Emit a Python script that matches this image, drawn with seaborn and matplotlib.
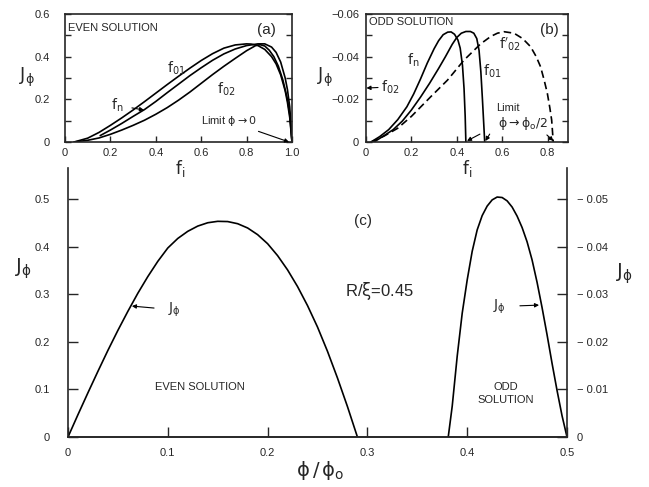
import numpy as np
import pandas as pd
import matplotlib
matplotlib.use("Agg")
import matplotlib.pyplot as plt
from matplotlib.ticker import FixedLocator, MultipleLocator
import seaborn as sns

# ---------------- data ----------------
# panel (a) even solution
a_f01_x = [0.04, 0.10, 0.15, 0.20, 0.25, 0.30, 0.35, 0.40, 0.45, 0.50, 0.55, 0.60, 0.65, 0.70, 0.75, 0.80,
           0.82, 0.85, 0.88, 0.91, 0.93, 0.95, 0.97, 0.98, 0.99, 1.0]
a_f01_y = [0.0, 0.018, 0.045, 0.078, 0.113, 0.150, 0.189, 0.229, 0.269, 0.308, 0.346, 0.382, 0.414, 0.44, 0.455, 0.46,
           0.459, 0.452, 0.434, 0.40, 0.366, 0.315, 0.24, 0.185, 0.115, 0.0]
a_fn_x = [0.155, 0.20, 0.25, 0.30, 0.35, 0.40, 0.45, 0.50, 0.55, 0.60, 0.65, 0.70, 0.75, 0.80, 0.85, 0.88,
          0.91, 0.93, 0.95, 0.97, 0.98, 0.99, 1.0]
a_fn_y = [0.03, 0.056, 0.087, 0.12, 0.152, 0.19, 0.231, 0.271, 0.311, 0.348, 0.383, 0.413, 0.436, 0.452, 0.46, 0.46,
          0.445, 0.42, 0.375, 0.30, 0.245, 0.165, 0.0]
a_f02_x = [0.04, 0.10, 0.15, 0.20, 0.25, 0.30, 0.35, 0.40, 0.45, 0.50, 0.55, 0.60, 0.65, 0.70, 0.75, 0.80,
           0.84, 0.86, 0.88, 0.90, 0.92, 0.94, 0.96, 0.98, 0.99, 1.0]
a_f02_y = [0.0, 0.008, 0.019, 0.036, 0.056, 0.078, 0.102, 0.13, 0.161, 0.196, 0.234, 0.275, 0.316, 0.355, 0.392, 0.428,
           0.452, 0.456, 0.45, 0.43, 0.40, 0.355, 0.29, 0.20, 0.13, 0.0]

# panel (b) odd solution
b_fn_x = [0.022, 0.06, 0.10, 0.14, 0.18, 0.21, 0.24, 0.27, 0.30, 0.32, 0.34, 0.36, 0.375, 0.39, 0.405, 0.415,
          0.425, 0.432, 0.437, 0.44]
b_fn_y = [0.0, -0.0025, -0.0058, -0.0105, -0.0165, -0.0225, -0.0295, -0.037, -0.0437, -0.0475, -0.0503, -0.0515,
          -0.0516, -0.0505, -0.0478, -0.044, -0.036, -0.025, -0.012, 0.0]
b_f01_x = [0.035, 0.08, 0.12, 0.16, 0.20, 0.24, 0.28, 0.32, 0.35, 0.38, 0.40, 0.42, 0.44, 0.46, 0.475, 0.488,
           0.498, 0.506, 0.513, 0.519, 0.523]
b_f01_y = [0.0, -0.003, -0.0058, -0.0098, -0.015, -0.021, -0.0275, -0.0345, -0.040, -0.0458, -0.049, -0.051,
           -0.0518, -0.0518, -0.051, -0.0485, -0.043, -0.033, -0.020, -0.008, 0.0]
b_f02p_x = [0.022, 0.08, 0.139, 0.20, 0.286, 0.359, 0.432, 0.505, 0.55, 0.579, 0.608, 0.652, 0.69, 0.725, 0.75,
            0.769, 0.785, 0.799, 0.81, 0.818, 0.825]
b_f02p_y = [0.0, -0.0028, -0.0064, -0.012, -0.0213, -0.029, -0.0384, -0.046, -0.0495, -0.051, -0.0517, -0.051,
            -0.0485, -0.0447, -0.040, -0.0353, -0.029, -0.0228, -0.016, -0.0103, 0.0]

# panel (c)
c_even_x = [0.0, 0.01, 0.02, 0.03, 0.04, 0.05, 0.06, 0.07, 0.08, 0.09, 0.10, 0.11, 0.12, 0.13, 0.14, 0.15,
            0.16, 0.17, 0.18, 0.19, 0.20, 0.21, 0.22, 0.23, 0.24, 0.25, 0.26, 0.27, 0.28, 0.29]
c_even_y = [0.0, 0.047, 0.093, 0.138, 0.182, 0.224, 0.264, 0.302, 0.337, 0.369, 0.397, 0.417, 0.432, 0.443, 0.45, 0.453,
            0.4525, 0.448, 0.439, 0.425, 0.406, 0.381, 0.351, 0.316, 0.276, 0.231, 0.180, 0.124, 0.064, 0.0]
c_odd_x = [0.381, 0.385, 0.39, 0.395, 0.40, 0.405, 0.41, 0.415, 0.42, 0.425, 0.43, 0.435, 0.44, 0.445, 0.45,
           0.455, 0.46, 0.465, 0.47, 0.475, 0.48, 0.485, 0.49, 0.495, 0.5]
c_odd_y = [0.0, -0.0065, -0.017, -0.026, -0.033, -0.039, -0.0435, -0.0465, -0.0485, -0.0498, -0.0504, -0.0503,
           -0.0496, -0.0483, -0.0464, -0.044, -0.041, -0.0372, -0.0325, -0.0272, -0.0215, -0.0155, -0.0098, -0.0045, 0.0]

a_xticks = [0, 0.2, 0.4, 0.6, 0.8, 1.0]
a_xticklabels = ["0", "0.2", "0.4", "0.6", "0.8", "1.0"]
a_yticks = [0, 0.2, 0.4, 0.6]
a_yticklabels = ["0", "0.2", "0.4", "0.6"]
b_xticks = [0, 0.2, 0.4, 0.6, 0.8]
b_xticklabels = ["0", "0.2", "0.4", "0.6", "0.8"]
b_yticks = [0, -0.02, -0.04, -0.06]
b_yticklabels = ["0", "\u22120.02", "\u22120.04", "\u22120.06"]
c_xticks = [0, 0.1, 0.2, 0.3, 0.4, 0.5]
c_xticklabels = ["0", "0.1", "0.2", "0.3", "0.4", "0.5"]
c_yticks = [0, 0.1, 0.2, 0.3, 0.4, 0.5]
c_yticklabels = ["0", "0.1", "0.2", "0.3", "0.4", "0.5"]
c_y2ticks = [0, -0.01, -0.02, -0.03, -0.04, -0.05]
c_y2ticklabels = ["0", "\u2212 0.01", "\u2212 0.02", "\u2212 0.03", "\u2212 0.04", "\u2212 0.05"]

# ---------------- style ----------------
sns.set_style("ticks")
plt.rcParams['font.family'] = ['Liberation Sans', 'DejaVu Sans']
plt.rcParams['mathtext.fontset'] = 'dejavusans'
plt.rcParams['mathtext.default'] = 'rm'
plt.rcParams['axes.linewidth'] = 1.2

fig = plt.figure(figsize=(6.49, 4.87), dpi=100)
W, H = 649.0, 487.0

def px_axes(l, t, r, b):
    return fig.add_axes([l / W, 1 - b / H, (r - l) / W, (b - t) / H])

axc = px_axes(68, 168, 567, 437)
axa = px_axes(65, 14, 292, 142)
axb = px_axes(366, 14, 568, 142)

LW = 1.2
K = 'black'
arrow = dict(arrowstyle='-|>', lw=0.8, color=K, mutation_scale=6, shrinkA=0, shrinkB=0)
TF = 8  # tick font size

def line(ax, x, y, **kw):
    sns.lineplot(x=x, y=y, ax=ax, color=K, lw=LW, sort=False, estimator=None, legend=False, **kw)

# ---------------- panel (a) ----------------
line(axa, a_f01_x, a_f01_y)
line(axa, a_fn_x, a_fn_y)
line(axa, a_f02_x, a_f02_y)
axa.set_xlim(0, 1.0)
axa.set_ylim(0, 0.6)
axa.xaxis.set_major_locator(FixedLocator(a_xticks))
axa.set_xticklabels(a_xticklabels)
axa.yaxis.set_major_locator(FixedLocator(a_yticks))
axa.set_yticklabels(a_yticklabels)
axa.yaxis.set_minor_locator(MultipleLocator(0.1))
axa.tick_params(which='both', direction='in', length=4, width=1.0, right=True, top=False, labelsize=TF)
axa.tick_params(axis='y', pad=11)
axa.tick_params(axis='x', pad=4)
axa.set_xlabel(""); axa.set_ylabel("")
axa.text(0.015, 0.887, "EVEN SOLUTION", transform=axa.transAxes, ha='left', va='center', fontsize=8)
axa.text(0.888, 0.875, "(a)", transform=axa.transAxes, ha='center', va='center', fontsize=11)
axa.text(0.489, 0.347, r"$f_{01}$", ha='center', va='center', fontsize=10)
axa.text(0.709, 0.248, r"$f_{02}$", ha='center', va='center', fontsize=10)
axa.annotate(r"$f_{n}$", xy=(0.348, 0.15), xytext=(0.229, 0.172), ha='center', va='center',
             fontsize=10, arrowprops=dict(arrow, shrinkA=4))
axa.annotate(r"Limit $\phi \rightarrow 0$", xy=(0.987, 0.0), xytext=(0.722, 0.098), ha='center', va='center',
             fontsize=8, arrowprops=dict(arrow, shrinkA=36))
axa.text(0.507, -0.21, r"$f_{i}$", transform=axa.transAxes, ha='center', va='center', fontsize=12)
axa.text(-0.167, 0.508, r"$J_{\phi}$", transform=axa.transAxes, ha='center', va='center', fontsize=13)

# ---------------- panel (b) ----------------
line(axb, b_fn_x, b_fn_y)
line(axb, b_f01_x, b_f01_y)
line(axb, b_f02p_x, b_f02p_y, linestyle=(0, (4.5, 2.5)))
axb.set_xlim(0, 0.89)
axb.set_ylim(0, -0.06)
axb.xaxis.set_major_locator(FixedLocator(b_xticks))
axb.set_xticklabels(b_xticklabels)
axb.yaxis.set_major_locator(FixedLocator(b_yticks))
axb.set_yticklabels(b_yticklabels)
axb.yaxis.set_minor_locator(MultipleLocator(0.01))
axb.tick_params(which='both', direction='in', length=4, width=1.0, right=True, top=False, labelsize=TF)
axb.tick_params(axis='y', pad=5)
axb.tick_params(axis='x', pad=4)
axb.set_xlabel(""); axb.set_ylabel("")
axb.text(0.015, 0.94, "ODD SOLUTION", transform=axb.transAxes, ha='left', va='center', fontsize=8)
axb.text(0.906, 0.875, "(b)", transform=axb.transAxes, ha='center', va='center', fontsize=11)
axb.text(0.206, -0.0384, r"$f_{n}$", ha='center', va='center', fontsize=10)
axb.text(0.555, -0.0333, r"$f_{01}$", ha='center', va='center', fontsize=10)
axb.text(0.635, -0.0459, r"$f'_{02}$", ha='center', va='center', fontsize=10)
axb.annotate(r"$f_{02}$", xy=(0.002, -0.0253), xytext=(0.108, -0.0258), ha='center', va='center',
             fontsize=10, arrowprops=dict(arrow, shrinkA=9))
axb.text(0.626, -0.0159, "Limit", ha='center', va='center', fontsize=8)
axb.text(0.692, -0.0089, r"$\phi \rightarrow \phi_{o}/2$", ha='center', va='center', fontsize=9)
axb.annotate("", xy=(0.445, -0.0005), xytext=(0.502, -0.0037), arrowprops=arrow)
axb.annotate("", xy=(0.526, -0.0005), xytext=(0.545, -0.0037), arrowprops=arrow)
axb.annotate("", xy=(0.826, -0.0005), xytext=(0.797, -0.0033), arrowprops=arrow)
axb.text(0.5, -0.21, r"$f_{i}$", transform=axb.transAxes, ha='center', va='center', fontsize=12)
axb.text(-0.203, 0.508, r"$J_{\phi}$", transform=axb.transAxes, ha='center', va='center', fontsize=13)

# ---------------- panel (c) ----------------
line(axc, c_even_x, c_even_y)
axc.set_xlim(0, 0.5)
axc.set_ylim(0, 0.565)
axc.xaxis.set_major_locator(FixedLocator(c_xticks))
axc.set_xticklabels(c_xticklabels)
axc.yaxis.set_major_locator(FixedLocator(c_yticks))
axc.set_yticklabels(c_yticklabels)
axc.tick_params(direction='in', length=7, width=1.0, top=False, right=False, labelsize=TF)
axc.tick_params(axis='y', pad=13)
axc.tick_params(axis='x', pad=8)
axc.spines['top'].set_visible(False)
axc.spines['right'].set_visible(False)
axc.set_xlabel(""); axc.set_ylabel("")
axc.patch.set_alpha(0)

axc2 = axc.twinx()
line(axc2, c_odd_x, c_odd_y)
axc2.set_ylim(0, -0.0565)
axc2.yaxis.set_major_locator(FixedLocator(c_y2ticks))
axc2.set_yticklabels(c_y2ticklabels)
axc2.tick_params(direction='in', length=7, width=1.0, labelsize=TF, pad=7)
axc2.spines['top'].set_visible(False)
axc2.spines['left'].set_visible(False)
axc2.set_ylabel("")
axc2.patch.set_alpha(0)

axc.text(0.296, 0.453, "(c)", ha='center', va='center', fontsize=11)
axc.text(0.312, 0.307, r"R/$\xi$=0.45", ha='center', va='center', fontsize=12)
axc.annotate(r"$J_{\phi}$", xy=(0.064, 0.275), xytext=(0.107, 0.267), ha='center', va='center',
             fontsize=10, arrowprops=dict(arrow, shrinkA=8))
axc.annotate(r"$J_{\phi}$", xy=(0.472, 0.277), xytext=(0.432, 0.274), ha='center', va='center',
             fontsize=10, arrowprops=dict(arrow, shrinkA=8))
axc.text(0.132, 0.104, "EVEN SOLUTION", ha='center', va='center', fontsize=8)
axc.text(0.439, 0.091, "ODD\nSOLUTION", ha='center', va='center', fontsize=8, linespacing=1.3)
axc.text(0.505, -0.124, r"$\phi\,/\,\phi_{o}$", transform=axc.transAxes, ha='center', va='center', fontsize=14)
axc.text(-0.09, 0.625, r"$J_{\phi}$", transform=axc.transAxes, ha='center', va='center', fontsize=14)
axc.text(1.116, 0.607, r"$J_{\phi}$", transform=axc.transAxes, ha='center', va='center', fontsize=14)

fig.savefig("out.png", dpi=100)
